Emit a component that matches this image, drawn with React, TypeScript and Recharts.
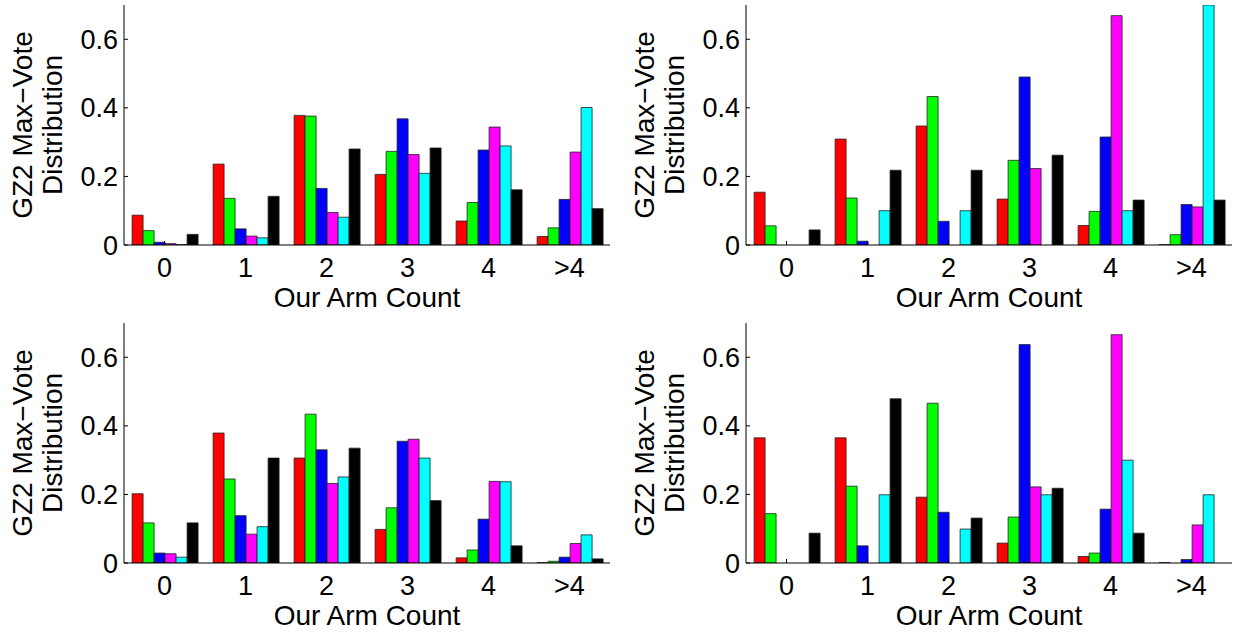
import { Bar, BarChart, Label, XAxis, YAxis } from "recharts";

const categories = ["0", "1", "2", "3", "4", ">4"];
const seriesColors = ["#ff0000", "#00ff00", "#0000ff", "#ff00ff", "#00ffff", "#000000"];
const yTicks = [0, 0.2, 0.4, 0.6];

// rows follow seriesColors order (red, green, blue, magenta, cyan, black), columns follow categories
const topLeftValues = [
  [0.087, 0.236, 0.378, 0.206, 0.07, 0.025],
  [0.042, 0.136, 0.376, 0.273, 0.124, 0.05],
  [0.008, 0.047, 0.165, 0.368, 0.277, 0.133],
  [0.004, 0.026, 0.095, 0.264, 0.344, 0.271],
  [0.001, 0.021, 0.081, 0.209, 0.289, 0.401],
  [0.031, 0.142, 0.28, 0.283, 0.161, 0.106]
];
const topRightValues = [
  [0.154, 0.309, 0.347, 0.134, 0.057, 0.001],
  [0.056, 0.137, 0.433, 0.247, 0.098, 0.03],
  [0, 0.011, 0.069, 0.49, 0.315, 0.118],
  [0, 0, 0, 0.223, 0.669, 0.111],
  [0, 0.1, 0.1, 0, 0.1, 0.7],
  [0.044, 0.218, 0.218, 0.262, 0.131, 0.131]
];
const bottomLeftValues = [
  [0.202, 0.379, 0.306, 0.098, 0.015, 0.001],
  [0.117, 0.245, 0.434, 0.161, 0.038, 0.005],
  [0.029, 0.138, 0.33, 0.355, 0.128, 0.017],
  [0.027, 0.084, 0.232, 0.361, 0.238, 0.057],
  [0.017, 0.106, 0.251, 0.306, 0.237, 0.082],
  [0.117, 0.306, 0.335, 0.182, 0.05, 0.012]
];
const bottomRightValues = [
  [0.365, 0.365, 0.192, 0.058, 0.019, 0.001],
  [0.144, 0.224, 0.466, 0.134, 0.029, 0],
  [0, 0.05, 0.148, 0.637, 0.157, 0.01],
  [0, 0, 0, 0.222, 0.666, 0.111],
  [0, 0.199, 0.099, 0.199, 0.3, 0.199],
  [0.087, 0.479, 0.131, 0.218, 0.087, 0]
];

const FONT = '"Liberation Sans", Arial, Helvetica, sans-serif';

function toRows(values: number[][]) {
  return categories.map((name, i) => {
    const row: Record<string, string | number> = { name };
    values.forEach((series, s) => {
      row["s" + s] = series[i];
    });
    return row;
  });
}

function YTitle(props: any) {
  const vb = props.viewBox;
  const cy = vb.y + vb.height / 2;
  return (
    <g fontFamily={FONT} fontSize={28} fill="#000">
      <text x={32} y={cy} textAnchor="middle" transform={`rotate(-90, 32, ${cy})`}>
        GZ2 Max−Vote
      </text>
      <text x={62} y={cy} textAnchor="middle" transform={`rotate(-90, 62, ${cy})`}>
        Distribution
      </text>
    </g>
  );
}

function XTitle(props: any) {
  const vb = props.viewBox;
  return (
    <text
      x={vb.x + vb.width / 2}
      y={vb.y + 62}
      textAnchor="middle"
      fontFamily={FONT}
      fontSize={28}
      fill="#000"
    >
      Our Arm Count
    </text>
  );
}

function Panel({ values, left, top, height }: { values: number[][]; left: number; top: number; height: number }) {
  const data = toRows(values);
  return (
    <div style={{ position: "absolute", left, top }}>
      <BarChart
        width={620}
        height={height}
        data={data}
        margin={{ top: 5, right: 10, bottom: height - 245 - 60, left: 0 }}
        barCategoryGap="10%"
        barGap={0}
      >
        <XAxis
          dataKey="name"
          interval={0}
          height={60}
          tickSize={-4}
          tickMargin={17}
          axisLine={{ stroke: "#000" }}
          tickLine={{ stroke: "#000" }}
          tick={{ fill: "#000", fontSize: 27, fontFamily: FONT }}
        >
          <Label content={XTitle} />
        </XAxis>
        <YAxis
          width={124}
          domain={[0, 0.7]}
          ticks={yTicks}
          allowDataOverflow
          tickSize={-4}
          tickMargin={10}
          tickFormatter={(v: number) => (v === 0 ? "0" : v.toFixed(1))}
          axisLine={{ stroke: "#000" }}
          tickLine={{ stroke: "#000" }}
          tick={{ fill: "#000", fontSize: 27, fontFamily: FONT }}
        >
          <Label content={YTitle} />
        </YAxis>
        {seriesColors.map((color, s) => (
          <Bar
            key={s}
            dataKey={"s" + s}
            fill={color}
            stroke="#222"
            strokeWidth={0.8}
            isAnimationActive={false}
          />
        ))}
      </BarChart>
    </div>
  );
}

export default function App() {
  return (
    <div
      style={{
        position: "absolute",
        left: 0,
        top: 0,
        width: 1235,
        height: 632,
        background: "#fff",
        overflow: "hidden"
      }}
    >
      <Panel values={topLeftValues} left={0} top={0} height={316} />
      <Panel values={topRightValues} left={622} top={0} height={316} />
      <Panel values={bottomLeftValues} left={0} top={318} height={314} />
      <Panel values={bottomRightValues} left={622} top={318} height={314} />
    </div>
  );
}
